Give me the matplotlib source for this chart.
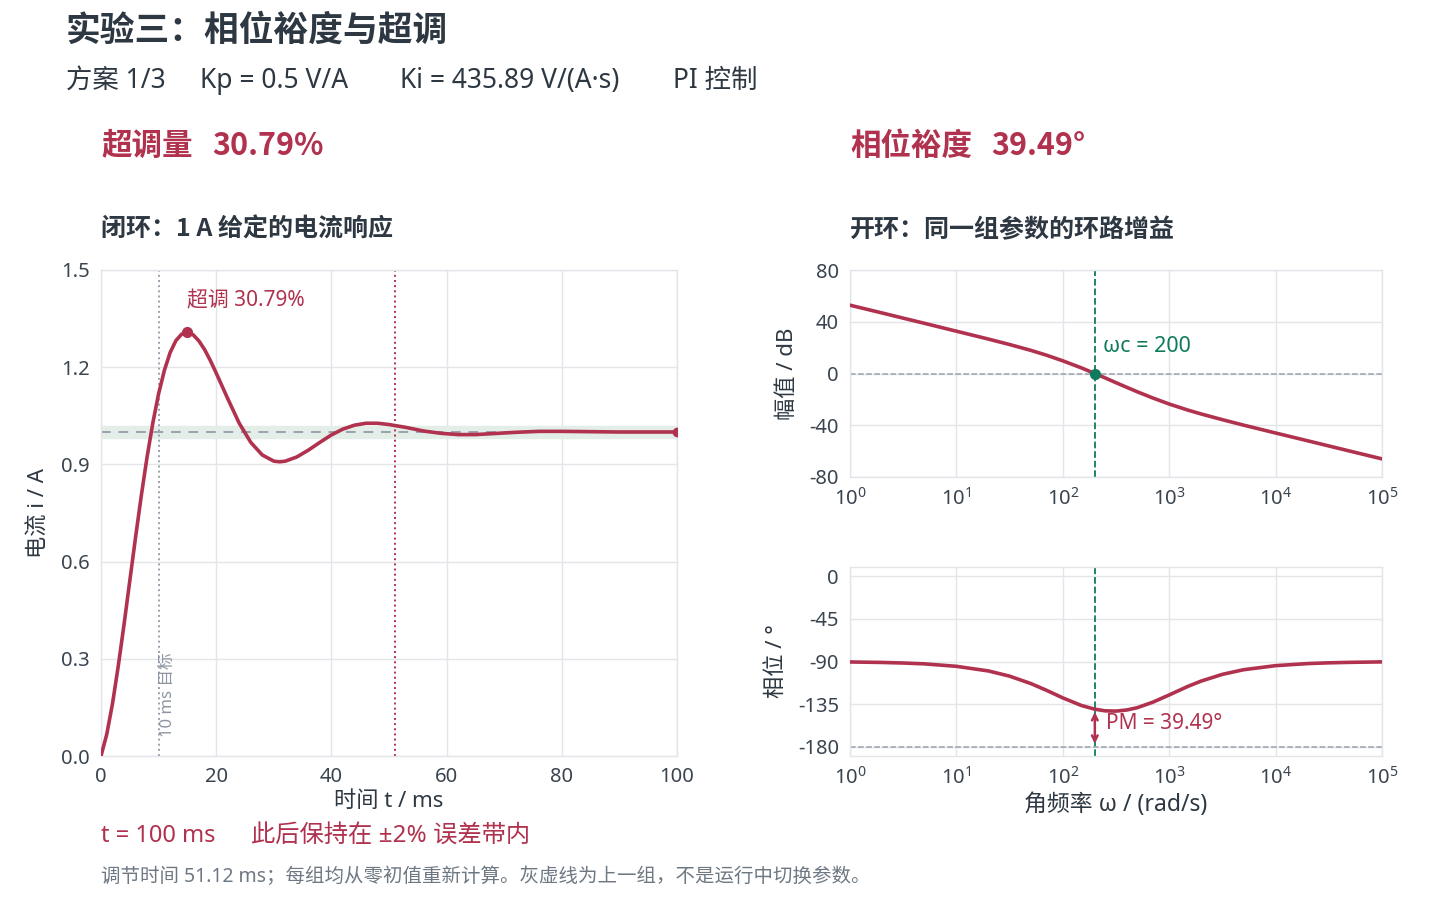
import matplotlib.pyplot as plt
from matplotlib.ticker import FormatStrFormatter, NullLocator, FixedLocator

plt.rcParams['font.family'] = ['Noto Sans', 'Noto Sans CJK SC', 'DejaVu Sans']
plt.rcParams['axes.unicode_minus'] = False
BOLD = ['Noto Sans CJK SC', 'DejaVu Sans']  # has a real bold face

RED = '#b0324f'
GREEN = '#0f7b5c'
DARK = '#2e3842'
TICK = '#3a444f'
GREY = '#6e7883'
GRID = '#e2e5e9'
REF = '#9aa1ad'

# closed loop step response
t_ms = [0, 1, 2, 3, 4, 5, 6, 7, 8, 9, 10, 11, 12, 13, 14, 15, 16, 17, 18, 19, 20,
        22, 24, 26, 28, 30, 31, 32, 34, 36, 38, 40, 42, 44, 46, 48, 50,
        53, 56, 59, 62, 65, 68, 72, 76, 80, 85, 90, 95, 100]
i_A = [0.0, 0.067, 0.162, 0.278, 0.406, 0.541, 0.675, 0.804, 0.923, 1.028, 1.118,
       1.190, 1.245, 1.282, 1.302, 1.308, 1.300, 1.281, 1.254, 1.220, 1.182,
       1.103, 1.027, 0.968, 0.929, 0.910, 0.908, 0.910, 0.923, 0.944, 0.968,
       0.991, 1.009, 1.021, 1.027, 1.027, 1.023,
       1.014, 1.003, 0.996, 0.992, 0.992, 0.995, 0.999, 1.002, 1.002,
       1.001, 1.000, 1.000, 1.000]
peak_t, peak_i = 15.0, 1.308
settle_ms = 51.12
target_ms = 10

# open loop bode
w = [1, 2, 3.16, 5, 10, 20, 31.6, 50, 70, 100, 150, 200, 250, 316, 400, 500, 700,
     1000, 1500, 2000, 3162, 5000, 1e4, 2e4, 3.16e4, 5e4, 1e5]
mag_db = [52.8, 46.8, 42.8, 38.8, 32.7, 26.6, 22.4, 17.9, 14.2, 9.8, 4.3, 0.0,
          -3.4, -7.1, -10.7, -14.1, -18.9, -23.6, -28.3, -31.3, -35.7, -39.9,
          -46.0, -52.0, -56.0, -60.0, -66.0]
phase_deg = [-90.5, -91.0, -91.6, -92.5, -95.1, -100.0, -105.5, -113.3, -120.4,
             -128.5, -136.6, -140.5, -142.2, -142.5, -141.3, -138.9, -133.1,
             -125.4, -116.3, -110.7, -103.6, -98.7, -94.4, -92.2, -91.4, -90.9, -90.4]
wc = 200
phase_wc = -140.5


def style(ax):
    for s in ax.spines.values():
        s.set_color(GRID)
        s.set_linewidth(1)
    ax.grid(True, color=GRID, linewidth=1)
    ax.set_axisbelow(True)
    ax.tick_params(length=0, labelsize=14.5, colors=TICK, pad=8)


fig = plt.figure(figsize=(14.4, 9), dpi=100)
W, H = 1440, 900
ax1 = fig.add_axes([101 / W, 1 - 756 / H, 576 / W, 486 / H])
ax2 = fig.add_axes([850 / W, 1 - 477 / H, 532 / W, 207 / H])
ax3 = fig.add_axes([850 / W, 1 - 756 / H, 532 / W, 189 / H])

# header texts
fig.text(66 / W, 1 - 30 / H, '实验三：相位裕度与超调', fontsize=25, fontweight='bold',
         family=BOLD, color=DARK, va='center')
for x, s in [(66, '方案 1/3'), (200, 'Kp = 0.5 V/A'), (400, 'Ki = 435.89 V/(A·s)'),
             (673, 'PI 控制')]:
    fig.text(x / W, 1 - 81 / H, s, fontsize=19, color=DARK, va='center')
for x, y, s in [(101, 146, '超调量'), (212, 146, '30.79%'),
                (850, 146, '相位裕度'), (991, 146, '39.49°')]:
    fig.text(x / W, 1 - y / H, s, fontsize=22, fontweight='bold', family=BOLD,
             color=RED, va='center')
fig.text(101 / W, 1 - 230 / H, '闭环：1 A 给定的电流响应', fontsize=18, fontweight='bold',
         family=BOLD, color=DARK, va='center')
fig.text(850 / W, 1 - 230 / H, '开环：同一组参数的环路增益', fontsize=18, fontweight='bold',
         family=BOLD, color=DARK, va='center')
fig.text(101 / W, 1 - 836 / H, 't = 100 ms', fontsize=17, color=RED, va='center')
fig.text(251 / W, 1 - 836 / H, '此后保持在 ±2% 误差带内', fontsize=17.5, color=RED, va='center')
fig.text(101 / W, 1 - 877 / H,
         '调节时间 51.12 ms；每组均从零初值重新计算。灰虚线为上一组，不是运行中切换参数。',
         fontsize=14, color=GREY, va='center')

# step response
style(ax1)
ax1.axhspan(0.98, 1.02, color='#e4eee8', zorder=1)
ax1.axhline(1.0, color=REF, ls=(0, (5, 4)), lw=1.4, zorder=2)
ax1.axvline(target_ms, color=REF, ls=':', lw=1.4, zorder=2)
ax1.axvline(settle_ms, color=RED, ls=':', lw=1.4, zorder=2)
ax1.plot(t_ms, i_A, color=RED, lw=2.6, zorder=3)
ax1.plot(peak_t, peak_i, 'o', color=RED, ms=7, zorder=4)
ax1.plot(t_ms[-1], i_A[-1], 'o', color=RED, ms=6, zorder=4)
ax1.text(peak_t, 1.405, '超调 30.79%', color=RED, fontsize=15, va='center')
ax1.text(11.7, 0.06, '10 ms 目标', color='#8d96a0', fontsize=12, rotation=90,
         ha='center', va='bottom')
ax1.set_xlim(0, 100)
ax1.set_ylim(0, 1.5)
ax1.set_xticks([0, 20, 40, 60, 80, 100])
ax1.set_yticks([0, 0.3, 0.6, 0.9, 1.2, 1.5])
ax1.yaxis.set_major_formatter(FormatStrFormatter('%.1f'))
ax1.set_xlabel('时间 t / ms', fontsize=16, color=DARK, labelpad=3)
ax1.set_ylabel('电流 i / A', fontsize=16, color=DARK, labelpad=8)

# magnitude
for ax in (ax2, ax3):
    style(ax)
    ax.set_xscale('log')
    ax.set_xlim(1, 1e5)
    ax.xaxis.set_major_locator(FixedLocator([1, 10, 100, 1e3, 1e4, 1e5]))
    ax.xaxis.set_minor_locator(NullLocator())
    ax.axvline(wc, color=GREEN, ls='--', lw=1.3, zorder=2)

ax2.axhline(0, color=REF, ls='--', lw=1.1, zorder=2)
ax2.plot(w, mag_db, color=RED, lw=2.6, zorder=3)
ax2.plot(wc, 0, 'o', color=GREEN, ms=7, zorder=4)
ax2.text(240, 20.5, 'ωc = 200', color=GREEN, fontsize=15.5, va='center')
ax2.set_ylim(-80, 80)
ax2.set_yticks([-80, -40, 0, 40, 80])
ax2.set_ylabel('幅值 / dB', fontsize=16, color=DARK, labelpad=8)

# phase
ax3.axhline(-180, color=REF, ls='--', lw=1.1, zorder=2)
ax3.plot(w, phase_deg, color=RED, lw=2.6, zorder=3)
ax3.annotate('', xy=(wc, -180), xytext=(wc, phase_wc),
             arrowprops=dict(arrowstyle='<->', color=RED, lw=1.8), zorder=4)
ax3.text(255, -156, 'PM = 39.49°', color=RED, fontsize=15, va='center')
ax3.set_ylim(-190, 10)
ax3.set_yticks([-180, -135, -90, -45, 0])
ax3.set_ylabel('相位 / °', fontsize=16, color=DARK, labelpad=8)
ax3.set_xlabel('角频率 ω / (rad/s)', fontsize=16.5, color=DARK, labelpad=3)

fig.savefig('out.png', dpi=100, facecolor='white')
